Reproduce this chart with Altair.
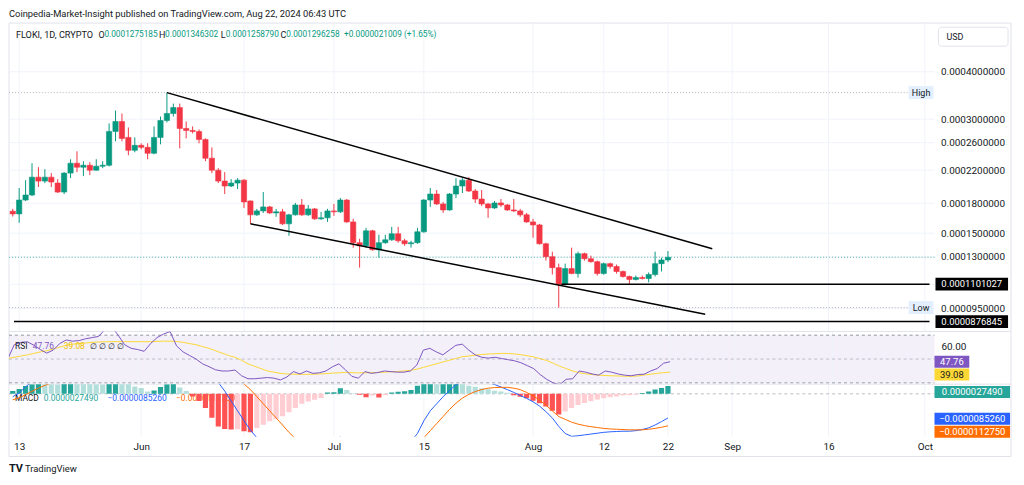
import altair as alt
import numpy as np
import pandas as pd

# ---------------- data (prices in 1e-6 USD, MACD in 1e-6) ----------------
dates = pd.date_range("2024-05-12", "2024-08-22", freq="D")

open_e6 = [
    171.5, 168.7, 183.5, 189.2, 210.9, 205.9, 210.9, 203.4, 192.6, 216.1,
    229.5, 224.0, 226.7, 220.0, 225.4, 226.7, 278.4, 295.8, 268.5, 248.2,
    255.8, 252.7, 243.8, 268.5, 297.5, 310.4, 321.8, 283.5, 280.1, 278.4,
    265.2, 236.6, 220.0, 205.9, 199.8, 203.4, 207.1, 182.5, 167.7, 171.8,
    176.0, 169.7, 170.8, 158.8, 167.7, 178.1, 167.7, 173.9, 163.7, 164.7,
    171.8, 170.8, 183.5, 160.7, 141.6, 139.0, 152.2, 135.7, 141.6, 144.1,
    149.5, 143.3, 140.7, 141.6, 151.3, 183.5, 190.3, 179.2, 172.8, 190.3,
    199.8, 207.1, 193.8, 184.6, 179.2, 174.9, 180.3, 178.1, 172.8, 171.8,
    167.7, 160.7, 157.8, 140.7, 130.1, 121.7, 109.9, 121.0, 117.4, 132.5,
    128.5, 126.2, 117.4, 124.7, 122.5, 118.9, 115.3, 113.3, 114.6, 113.9,
    116.7, 124.7, 127.52]
high_e6 = [
    174.0, 197.4, 207.1, 229.5, 224.0, 221.3, 216.1, 208.4, 217.4, 235.1,
    246.8, 232.3, 230.9, 235.1, 232.3, 292.2, 316.0, 310.4, 285.2, 268.5,
    259.0, 259.0, 287.0, 304.8, 352.4, 329.7, 329.7, 295.8, 287.0, 281.8,
    266.8, 252.7, 222.7, 217.4, 208.4, 209.6, 208.4, 183.0, 173.9, 192.6,
    177.1, 173.9, 173.9, 168.7, 180.3, 184.6, 178.1, 174.9, 170.8, 173.9,
    179.2, 185.8, 184.6, 163.7, 145.0, 155.0, 153.1, 148.6, 148.6, 155.9,
    155.9, 145.0, 143.3, 155.0, 184.6, 197.4, 195.0, 181.4, 191.5, 209.6,
    209.6, 210.9, 196.2, 195.0, 180.3, 182.5, 184.6, 179.2, 184.6, 173.9,
    169.7, 163.7, 158.8, 141.6, 134.1, 124.7, 124.7, 137.4, 134.1, 133.3,
    130.9, 127.0, 125.5, 125.5, 124.0, 119.6, 116.0, 116.0, 116.0, 118.2,
    134.1, 129.3, 134.63]
low_e6 = [
    166.0, 159.8, 182.5, 188.0, 198.6, 203.4, 198.6, 191.5, 190.3, 209.6,
    217.4, 212.2, 213.5, 219.5, 222.7, 225.0, 262.1, 262.1, 240.9, 245.3,
    249.7, 235.1, 242.4, 257.4, 294.0, 304.8, 251.2, 266.8, 275.1, 259.0,
    232.3, 216.1, 203.4, 190.3, 198.6, 196.2, 174.9, 158.8, 166.7, 169.7,
    168.7, 165.7, 157.8, 147.7, 167.0, 166.7, 166.7, 162.7, 162.7, 160.7,
    166.7, 169.7, 159.8, 137.4, 121.7, 137.4, 134.9, 129.3, 140.7, 143.3,
    141.6, 139.0, 137.4, 140.7, 150.4, 176.0, 178.1, 169.7, 172.0, 185.8,
    191.5, 192.6, 180.3, 177.1, 164.7, 173.9, 176.0, 171.8, 170.8, 165.7,
    159.8, 145.9, 140.0, 127.0, 116.7, 95.5, 109.2, 117.0, 114.6, 127.0,
    125.5, 116.0, 116.7, 121.0, 117.4, 114.6, 109.9, 112.6, 113.3, 111.3,
    115.3, 118.9, 125.88]
close_e6 = [
    168.7, 183.5, 189.2, 210.9, 205.9, 210.9, 204.7, 192.6, 216.1, 229.5,
    224.0, 226.7, 220.0, 225.4, 226.7, 278.4, 295.8, 266.8, 248.2, 255.8,
    252.7, 243.8, 268.5, 297.5, 310.4, 321.8, 283.5, 280.1, 278.4, 265.2,
    236.6, 220.0, 205.9, 199.8, 203.4, 207.1, 181.4, 167.7, 171.8, 176.0,
    169.7, 170.8, 158.8, 167.7, 178.1, 167.7, 173.9, 163.7, 164.7, 171.8,
    170.8, 183.5, 160.7, 141.6, 139.0, 152.2, 135.7, 141.6, 144.1, 149.5,
    143.3, 140.7, 141.6, 151.3, 183.5, 190.3, 179.2, 172.8, 190.3, 199.8,
    207.1, 193.8, 184.6, 179.2, 174.9, 180.3, 178.1, 172.8, 171.8, 167.7,
    160.7, 157.8, 140.7, 130.1, 121.7, 109.9, 121.0, 117.4, 132.5, 128.5,
    126.2, 117.4, 124.7, 122.5, 118.9, 115.3, 113.3, 114.6, 113.9, 116.7,
    124.7, 127.5, 129.63]

rsi = [
    50, 62, 64, 64.5, 61.7, 58, 55, 57.5, 63, 66,
    65, 65.5, 67, 68, 69, 75, 77, 70, 62, 59,
    58, 56.5, 63, 68, 71, 73, 61, 56, 53, 50,
    46, 43.6, 41, 40, 40, 40.8, 36, 33.5, 33.5, 34,
    34.5, 34, 32.5, 35, 39.5, 37.5, 40, 38, 38.5, 40,
    43.5, 46, 41, 35.5, 34, 39.5, 38, 38.7, 40, 39.5,
    39, 39, 40, 45, 57.5, 59, 56, 53.5, 57.5, 61.5,
    62.5, 57.5, 53.5, 51.5, 50.8, 51.5, 50.5, 49.5, 48.6, 47,
    44.5, 42, 37, 33, 30, 28.5, 33, 33.5, 40, 39,
    37.5, 36.5, 40, 39, 37.5, 36.5, 36, 37, 37.3, 40,
    42, 46.5, 47.76]
rsi_ma = [
    50.5, 51.5, 52.5, 53.5, 54.7, 56, 57, 58.5, 60, 61.5,
    62.5, 63, 63.5, 64, 64.3, 64.5, 64.6, 64.6, 64.6, 64.6,
    64.6, 64.5, 64.6, 64.8, 65, 65, 64.8, 64, 63, 62,
    60.5, 59, 57, 55, 53, 51.5, 49, 46, 44, 42,
    40, 39, 38, 37.5, 37.3, 37.2, 37.2, 37.3, 37.5, 37.8,
    38.2, 38.5, 38.8, 38.6, 38.4, 38.5, 38.6, 38.8, 39.0, 39.3,
    39.6, 40, 40.5, 41.5, 43, 44.5, 46, 47.5, 49, 50.5,
    52, 52.5, 53.3, 53.8, 54.2, 54.5, 54.7, 54.7, 54.3, 53.7,
    52.8, 51.8, 50.3, 48.8, 46.5, 44, 42, 40, 38.5, 37.6,
    37.0, 36.5, 36.2, 36.0, 35.8, 35.6, 35.5, 35.8, 36.6, 37.3,
    38.0, 38.6, 39.08]
macd = [
    -1.0, 0.3, 2.5, 4.2, 5.3, 6.2, 6.6, 6.5, 7.2, 8.5,
    9.5, 10.2, 10.7, 11.0, 11.3, 13.8, 16.5, 17.0, 16.5, 16.2,
    15.8, 15.0, 15.3, 16.8, 18.8, 20.5, 19.5, 17.5, 15.5, 12.5,
    9.5, 6.5, 4.0, 1.0, -2.5, -6.0, -9.5, -12.8, -15.5, -17.5,
    -19.0, -20.0, -20.5, -20.5, -19.8, -19.5, -18.8, -18.2, -17.5, -16.8,
    -16.0, -15.3, -16.0, -18.0, -20.5, -21.0, -20.5, -20.5, -20.0, -19.5,
    -19.0, -18.5, -16.8, -14.0, -9.5, -6.0, -3.5, -1.0, 1.2, 3.2,
    4.3, 4.8, 4.8, 4.5, 4.0, 3.3, 2.4, 1.5, 0.5, -0.6,
    -1.6, -2.8, -4.3, -6.3, -8.5, -11.5, -14.0, -15.0, -14.8, -14.5,
    -14.2, -13.9, -13.6, -13.4, -13.3, -13.2, -13.2, -13.0, -12.6, -12.0,
    -11.0, -9.8, -8.526]
signal = [
    -2.1, -1.4, -0.3, 0.9, 2.0, 3.0, 3.8, 4.4, 5.0, 5.7,
    6.4, 7.1, 7.8, 8.4, 9.0, 9.9, 11.0, 12.1, 13.0, 13.6,
    14.0, 14.3, 14.5, 15.0, 15.7, 16.7, 17.3, 17.4, 17.0, 16.0,
    14.5, 12.8, 10.8, 8.8, 7.0, 5.5, 3.5, 1.5, -1.0, -3.5,
    -6.0, -8.5, -11.0, -13.6, -15.8, -17.0, -17.8, -18.2, -18.3, -18.2,
    -17.8, -17.2, -17.0, -17.2, -17.8, -18.5, -19.0, -19.3, -19.4, -19.4,
    -19.3, -19.2, -18.5, -17.5, -15.5, -13.0, -10.5, -8.0, -5.5, -3.3,
    -1.5, -0.2, 0.8, 1.5, 2.0, 2.2, 2.3, 2.3, 2.0, 1.5,
    0.5, -0.7, -2.2, -4.0, -6.0, -8.0, -9.0, -10.0, -10.7, -11.2,
    -11.6, -11.9, -12.2, -12.4, -12.5, -12.6, -12.7, -12.7, -12.7, -12.5,
    -12.2, -11.8, -11.275]
hist = [
    1.0, 1.7, 2.8, 3.4, 3.6, 3.5, 3.4, 3.3, 3.6, 3.9,
    3.8, 3.6, 3.5, 3.4, 3.3, 3.8, 4.5, 4.2, 3.5, 2.6,
    2.1, 0.8, 1.2, 2.4, 3.4, 3.8, 2.2, 1.0, -0.9, -2.5,
    -5.0, -8.4, -11.5, -12.4, -12.6, -12.5, -13.2, -13.6, -12.1, -10.9,
    -9.7, -8.9, -7.9, -6.5, -5.0, -3.5, -2.7, -2.1, -1.5, 0.5,
    0.6, 2.0, 1.4, 0.2, -0.3, -1.2, -0.6, -1.3, -0.5, 0.5,
    0.7, 0.9, 1.4, 2.9, 3.5, 3.7, 3.5, 3.7, 3.9, 4.1,
    3.9, 2.9, 2.5, 2.0, 1.6, 1.1, 0.8, 0.4, -0.5, -1.0,
    -1.6, -2.4, -3.3, -4.5, -6.0, -7.3, -6.2, -5.0, -3.9, -3.2,
    -2.6, -2.0, -1.6, -1.2, -0.9, -0.6, -0.5, -0.3, 0.3, 0.8,
    1.5, 2.1, 2.749]

tick_days = [0, 19, 35, 49, 63, 80, 91, 101, 111, 126, 141]
tick_labels = ["13", "Jun", "17", "Jul", "15", "Aug", "12", "22", "Sep", "16", "Oct"]
price_ticks = [0.0004, 0.0003, 0.00026, 0.00022, 0.00018, 0.00015, 0.00013, 0.000095]
price_grid = price_ticks + [0.00011]

trend_names = ["upper", "upper", "lower", "lower"]
trend_days = [23, 107.9, 36, 106.8]
trend_prices = [352.4e-6, 136.5e-6, 158.8e-6, 91.7e-6]

level_prices = [0.0001101027, 0.0000876845]
level_start = [84.4, -0.81]
last_price = 0.0001296258

n = len(dates)
for arr in (open_e6, high_e6, low_e6, close_e6, rsi, rsi_ma, macd, signal, hist):
    assert len(arr) == n, len(arr)

day0 = pd.Timestamp("2024-05-13")
df = pd.DataFrame({
    "date": dates.strftime("%Y-%m-%d"),
    "d": np.asarray((dates - day0).days, dtype=float),
    "open": np.array(open_e6) * 1e-6,
    "high": np.array(high_e6) * 1e-6,
    "low": np.array(low_e6) * 1e-6,
    "close": np.array(close_e6) * 1e-6,
    "rsi": rsi, "rsi_ma": rsi_ma, "macd": macd, "signal": signal, "hist": hist,
})
df["dir"] = np.where(df["close"] >= df["open"], "up", "down")
prev = df["hist"].shift(1).fillna(0.0)
df["hcol"] = np.select(
    [(df["hist"] >= 0) & (df["hist"] >= prev), df["hist"] >= 0, df["hist"] < prev],
    ["pos_up", "pos_dn", "neg_dn"], default="neg_up")

# ---------------- layout constants ----------------
W = 931
H1, H2, H3 = 310, 53, 53
X_DOM = [-0.81, 141.72]
FONT = "Roboto"
DARK = "#131722"
GRID = "#f0f3fa"
GREEN = "#089981"
RED = "#f23645"

one = pd.DataFrame({"k": [0]})
xs = alt.Scale(domain=X_DOM, nice=False, zero=False)

expr = " : ".join(f"datum.value == {d} ? '{l}'" for d, l in zip(tick_days, tick_labels)) + " : ''"
xaxis = alt.Axis(values=tick_days, labelExpr=expr, grid=False, domain=False, ticks=False,
                 labelPadding=5, labelFontSize=10, labelFont=FONT, labelColor=DARK,
                 labelFlush=False, labelOverlap=False)


def xq(field="d", axis=None):
    return alt.X(f"{field}:Q", scale=xs, axis=axis, title=None)


def ptext(txt, x, y, color=DARK, size=8.5, align="left", weight="normal"):
    return alt.Chart(one).mark_text(
        text=txt, align=align, baseline="middle", fontSize=size, font=FONT,
        color=color, fontWeight=weight).encode(x=alt.value(x), y=alt.value(y))


vgrid_df = pd.DataFrame({"d": tick_days})

# ---------------- price pane ----------------
ys = alt.Scale(type="log", domain=[0.00008259, 0.0005369], nice=False)
price_axis = alt.Axis(orient="right", values=price_ticks, format=".10f", grid=False,
                      domain=False, ticks=False, labelPadding=6, labelFontSize=10,
                      labelFont=FONT, labelColor=DARK, labelOverlap=False)


def yp(field):
    return alt.Y(f"{field}:Q", scale=ys, axis=price_axis, title=None)


border = alt.Chart(one).mark_rect(fill="transparent", stroke="#e0e3eb", strokeWidth=1).encode(
    x=alt.value(0), x2=alt.value(1008), y=alt.value(-0.25), y2=alt.value(435.75))
hgrid = alt.Chart(pd.DataFrame({"p": price_grid})).mark_rule(color=GRID).encode(
    y=yp("p"), x=alt.value(0), x2=alt.value(W))
vgrid = alt.Chart(vgrid_df).mark_rule(color=GRID).encode(x=xq())

hl_df = pd.DataFrame({"p": [df["high"].max(), df["low"].min()], "label": ["High", "Low"]})
hl_line = alt.Chart(hl_df).mark_rule(color="#b2b5be", strokeDash=[1, 2]).encode(
    y=yp("p"), x=alt.value(0), x2=alt.value(W - 26))
hl_box = alt.Chart(hl_df).mark_rule(color="#e3effd", strokeWidth=13).encode(
    y=yp("p"), x=alt.value(W - 26), x2=alt.value(W - 1))
hl_txt = alt.Chart(hl_df).mark_text(fontSize=9, font=FONT, color=DARK, align="center",
                                    baseline="middle").encode(
    y=yp("p"), x=alt.value(W - 13.5), text="label:N")

last_line = alt.Chart(pd.DataFrame({"p": [last_price]})).mark_rule(
    color=GREEN, strokeDash=[1, 2], opacity=0.7).encode(y=yp("p"), x=alt.value(0), x2=alt.value(W))

lv_df = pd.DataFrame({"p": level_prices, "d0": level_start, "d1": [X_DOM[1]] * 2,
                      "label": [f"{v:.10f}" for v in level_prices]})
lv_line = alt.Chart(lv_df).mark_rule(color="#000000", strokeWidth=1.5).encode(
    x=xq("d0"), x2="d1", y=yp("p"))
lv_box = alt.Chart(lv_df).mark_rule(color="#000000", strokeWidth=13).encode(
    y=yp("p"), x=alt.value(W + 1), x2=alt.value(W + 74))
lv_txt = alt.Chart(lv_df).mark_text(fontSize=9.5, font=FONT, color="white", align="center",
                                    baseline="middle").encode(
    y=yp("p"), x=alt.value(W + 37.5), text="label:N")

trend_df = pd.DataFrame({"line": trend_names, "d": trend_days, "p": trend_prices})
trend = alt.Chart(trend_df).mark_line(color="#000000", strokeWidth=1.5).encode(
    x=xq(), y=yp("p"), detail="line:N")

dir_scale = alt.Scale(domain=["up", "down"], range=[GREEN, RED])
wick = alt.Chart(df).mark_rule(strokeWidth=1, clip=True).encode(
    x=xq(), y=yp("low"), y2="high", color=alt.Color("dir:N", scale=dir_scale, legend=None))
body = alt.Chart(df).mark_bar(size=5.3, clip=True, strokeWidth=0.6).encode(
    x=xq(), y=yp("open"), y2="close",
    color=alt.Color("dir:N", scale=dir_scale, legend=None),
    stroke=alt.Stroke("dir:N", scale=dir_scale, legend=None))

usd_box = alt.Chart(one).mark_rect(fill="white", stroke="#e0e3eb", cornerRadius=3).encode(
    x=alt.value(W + 4), x2=alt.value(W + 74), y=alt.value(4), y2=alt.value(23))

NUM = 8.3
header = [
    ptext("Coinpedia-Market-Insight published on TradingView.com, Aug 22, 2024 06:43 UTC", 0, -9, size=9.4),
    ptext("FLOKI, 1D, CRYPTO", 7, 12, size=9.2),
    ptext("O", 90, 12, size=9), ptext("0.0001275185", 96, 12, GREEN, size=NUM),
    ptext("H", 151, 12, size=9), ptext("0.0001346302", 157, 12, GREEN, size=NUM),
    ptext("L", 213, 12, size=9), ptext("0.0001258790", 218, 12, GREEN, size=NUM),
    ptext("C", 273, 12, size=9), ptext("0.0001296258", 279, 12, GREEN, size=NUM),
    ptext("+0.0000021009 (+1.65%)", 337, 12, GREEN, size=NUM),
    ptext("USD", W + 12, 13.5, size=9),
]

price = alt.layer(
    border, hgrid, vgrid, hl_line, last_line, wick, body, lv_line, trend,
    hl_box, hl_txt, lv_box, lv_txt, usd_box, *header
).properties(width=W, height=H1)

# ---------------- RSI pane ----------------
rs = alt.Scale(domain=[28.96, 73.13], nice=False, zero=False)


def yr(field):
    return alt.Y(f"{field}:Q", scale=rs, axis=None, title=None)


band = alt.Chart(one).mark_rect(color="#7e57c2", opacity=0.09).encode(
    x=alt.value(0), x2=alt.value(W),
    y=alt.Y(datum=70, type="quantitative", scale=rs, axis=None), y2=alt.Y2(datum=30))
rsi_lv = pd.DataFrame({"v": [70, 50, 30], "op": [0.8, 0.45, 0.8]})
rsi_dash = alt.Chart(rsi_lv).mark_rule(color="#787b86", strokeDash=[3, 3]).encode(
    y=yr("v"), x=alt.value(0), x2=alt.value(W), opacity=alt.Opacity("op:Q", scale=None, legend=None))
sep1 = alt.Chart(one).mark_rule(color="#e0e3eb").encode(x=alt.value(0), x2=alt.value(1008), y=alt.value(0))
vgrid_r = alt.Chart(vgrid_df).mark_rule(color=GRID).encode(x=xq())
ma_line = alt.Chart(df).mark_line(color="#fdd835", strokeWidth=1, clip=True).encode(x=xq(), y=yr("rsi_ma"))
rsi_line = alt.Chart(df).mark_line(color="#7e57c2", strokeWidth=1, clip=True).encode(x=xq(), y=yr("rsi"))
tick60 = alt.Chart(one).mark_text(text="60.00", align="left", baseline="middle", fontSize=10,
                                  font=FONT, color=DARK).encode(
    x=alt.value(W + 7), y=alt.Y(datum=60, type="quantitative", scale=rs, axis=None))


def rsi_box(v, bg, fg, off):
    lab = f"{v:.2f}"
    d1 = pd.DataFrame({"v": [v]})
    b = alt.Chart(d1).mark_rule(color=bg, strokeWidth=12, yOffset=off).encode(
        y=yr("v"), x=alt.value(W), x2=alt.value(W + 35))
    t = alt.Chart(d1).mark_text(text=lab, color=fg, fontSize=9.5, font=FONT, align="center",
                                baseline="middle", yOffset=off).encode(y=yr("v"), x=alt.value(W + 17.5))
    return [b, t]


rsi_pane = alt.layer(
    band, vgrid_r, rsi_dash, sep1, ma_line, rsi_line,
    ptext("RSI", 6, 14.75), ptext(f"{rsi[-1]:.2f}", 24, 14.75, "#7e57c2"),
    ptext(f"{rsi_ma[-1]:.2f}", 55, 14.75, "#f2c200"), ptext("∅ ∅ ∅ ∅", 81, 14.75),
    tick60,
    *rsi_box(rsi[-1], "#7e57c2", "#ffffff", 0),
    *rsi_box(rsi_ma[-1], "#fdd835", DARK, 2.5),
).properties(width=W, height=H2)

# ---------------- MACD pane ----------------
ms = alt.Scale(domain=[-15.18, 3.42], nice=False, zero=False)


def ym(field):
    return alt.Y(f"{field}:Q", scale=ms, axis=None, title=None)


vgrid_m = alt.Chart(vgrid_df).mark_rule(color=GRID).encode(x=xq(axis=xaxis))
sep2 = alt.Chart(one).mark_rule(color="#e0e3eb").encode(x=alt.value(0), x2=alt.value(1008), y=alt.value(0))
zero_line = alt.Chart(one).mark_rule(color="#787b86", strokeDash=[3, 3], opacity=0.5).encode(
    y=alt.Y(datum=0, type="quantitative", scale=ms, axis=None), x=alt.value(0), x2=alt.value(W))
hist_scale = alt.Scale(domain=["pos_up", "pos_dn", "neg_up", "neg_dn"],
                       range=["#26a69a", "#b2dfdb", "#ffcdd2", "#ff5252"])
bars = alt.Chart(df).mark_bar(size=5.2, clip=True).encode(
    x=xq(axis=xaxis), y=ym("hist"), y2=alt.Y2(datum=0),
    color=alt.Color("hcol:N", scale=hist_scale, legend=None))
macd_line = alt.Chart(df).mark_line(color="#2962ff", strokeWidth=1, clip=True).encode(
    x=xq(axis=xaxis), y=ym("macd"))
sig_line = alt.Chart(df).mark_line(color="#ff6d00", strokeWidth=1, clip=True).encode(
    x=xq(axis=xaxis), y=ym("signal"))


def fmt6(v):
    s = f"{abs(v) * 1e-6:.10f}"
    return ("\u2212" + s) if v < 0 else s


def macd_box(v, bg, off):
    d1 = pd.DataFrame({"v": [v]})
    b = alt.Chart(d1).mark_rule(color=bg, strokeWidth=12, yOffset=off).encode(
        y=ym("v"), x=alt.value(W), x2=alt.value(W + 76))
    t = alt.Chart(d1).mark_text(text=fmt6(v), color="white", fontSize=9.5, font=FONT, align="center",
                                baseline="middle", yOffset=off).encode(y=ym("v"), x=alt.value(W + 38))
    return [b, t]


macd_pane = alt.layer(
    vgrid_m, sep2, zero_line,
    ptext("MACD", 6, 13.75), ptext(fmt6(hist[-1]), 35, 13.75, "#26a69a"),
    ptext(fmt6(macd[-1]), 99, 13.75, "#2962ff"), ptext(fmt6(signal[-1]), 168, 13.75, "#ff6d00"),
    bars, macd_line, sig_line,
    *macd_box(hist[-1], "#26a69a", 6),
    *macd_box(macd[-1], "#2962ff", 0.7),
    *macd_box(signal[-1], "#ff6d00", 6),
    ptext("TV", 0, 85.75, size=11, weight="bold"),
    ptext("TradingView", 16, 85.75, size=9.5),
).properties(width=W, height=H3)

chart = alt.vconcat(price, rsi_pane, macd_pane, spacing=0, bounds="flush").resolve_scale(
    x="independent", y="independent", color="independent", stroke="independent",
    opacity="independent"
).properties(padding=0, background="white").configure_view(stroke=None)

chart.save("out.html", embed_options={"renderer": "svg", "actions": False})
